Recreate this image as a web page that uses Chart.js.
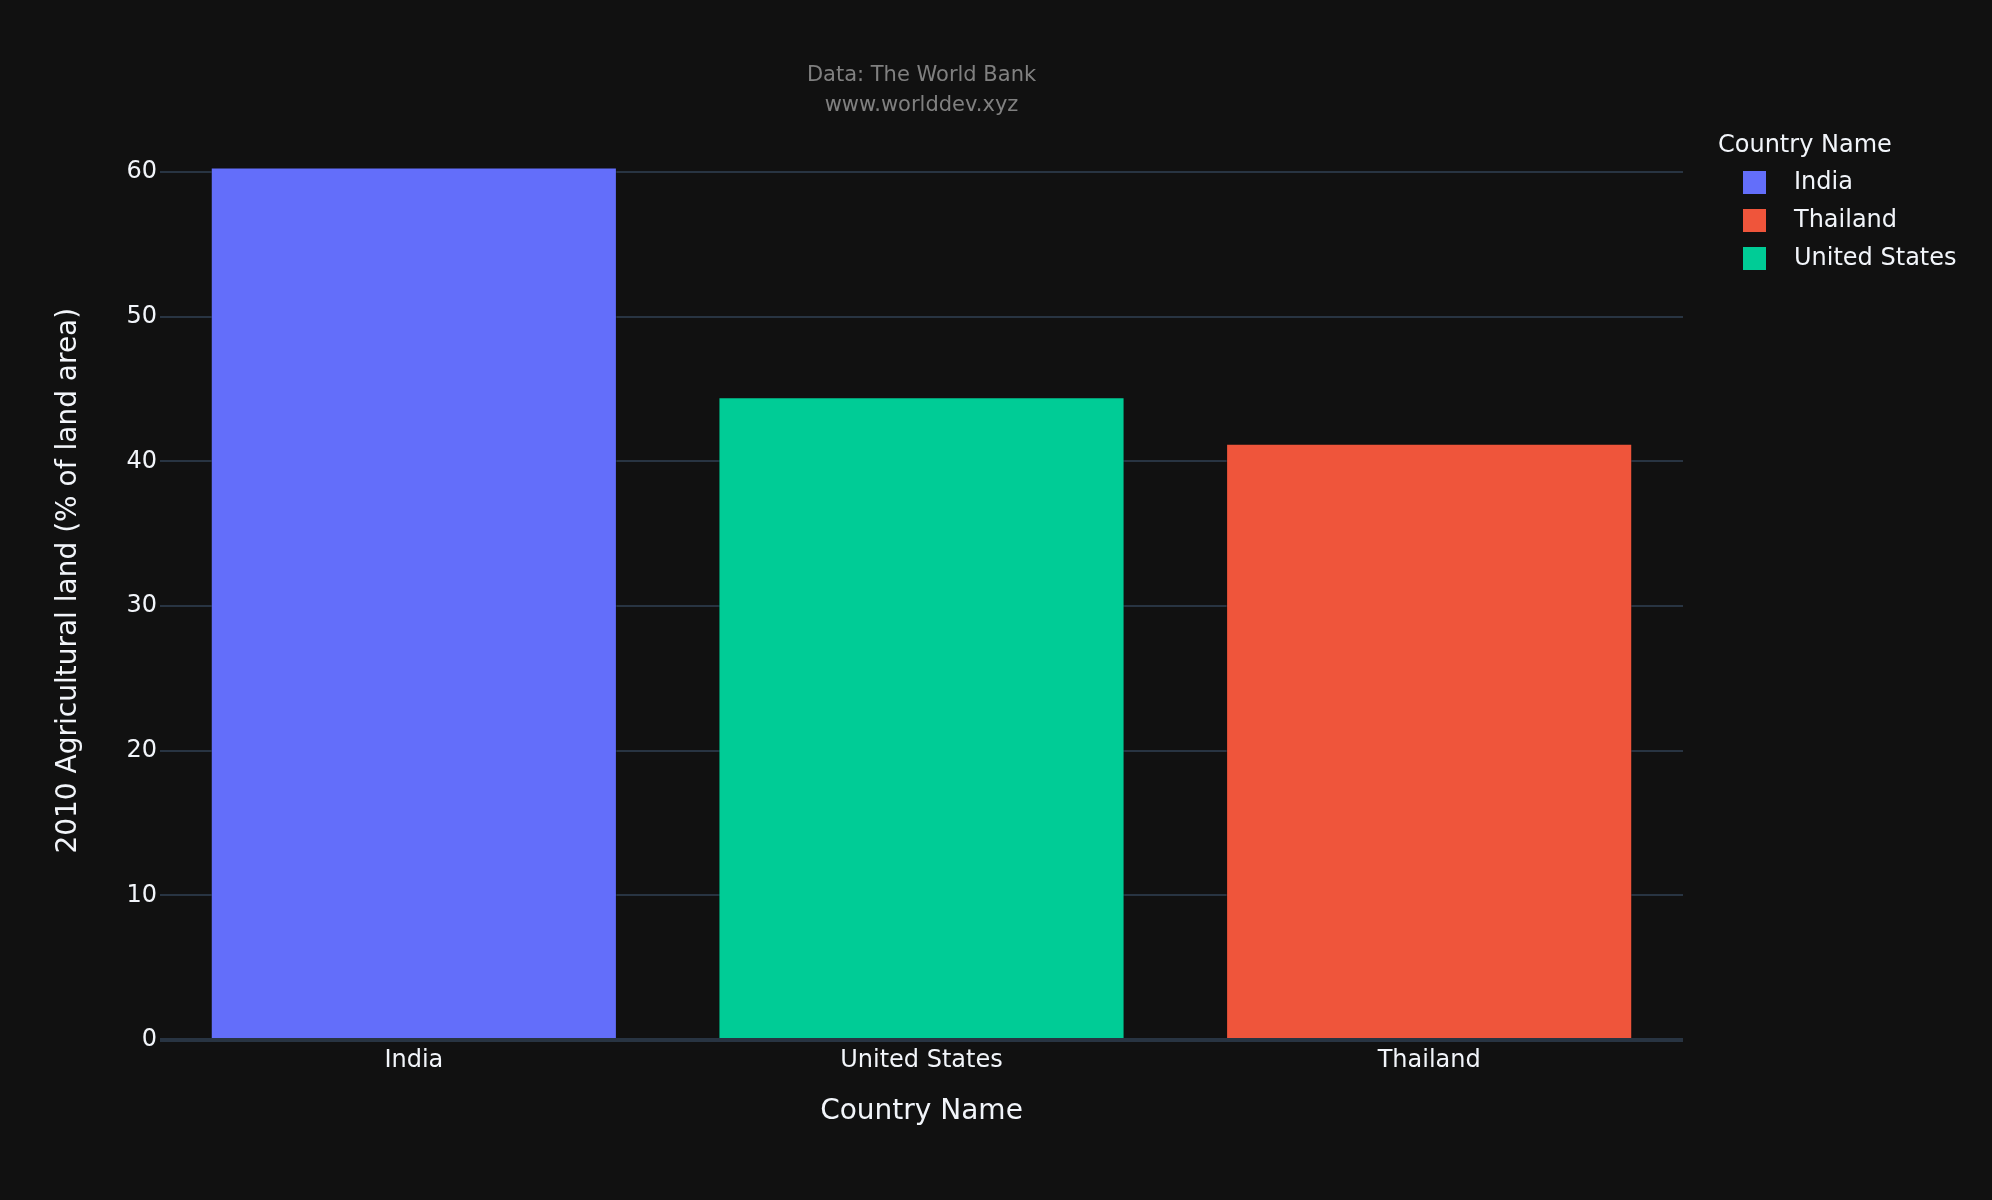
<!DOCTYPE html>
<html>
<head>
<meta charset="utf-8">
<style>
  html, body { margin: 0; padding: 0; background: #111111; }
  #wrap { width: 1992px; height: 1200px; position: relative; }
</style>
<script src="https://cdn.jsdelivr.net/npm/chart.js@4/dist/chart.umd.min.js"></script>
</head>
<body>
<div id="wrap"><canvas id="c" width="1992" height="1200"></canvas></div>
<script>
// ---- data ----
const categories = ['India', 'United States', 'Thailand'];
const values = [60.32, 44.43, 41.22];
const barColors = ['#636efa', '#00cc96', '#EF553B'];
const legendLabels = ['India', 'Thailand', 'United States'];
const legendColors = ['#636efa', '#EF553B', '#00cc96'];
const yTicks = [0, 10, 20, 30, 40, 50, 60];
const yMax = 63.5;
const xTitle = 'Country Name';
const yTitle = '2010 Agricultural land (% of land area)';
const legendTitle = 'Country Name';
const noteLines = ['Data: The World Bank', 'www.worlddev.xyz'];

const FONT = "'DejaVu Sans', Verdana, sans-serif";
const TEXT = '#f2f5fa';
const GRID = '#283442';

const overlay = {
  id: 'overlay',
  afterDraw(chart) {
    const ctx = chart.ctx;
    const a = chart.chartArea;
    const cx = (a.left + a.right) / 2;
    const cy = (a.top + a.bottom) / 2;
    ctx.save();
    // annotation
    ctx.fillStyle = '#808080';
    ctx.font = '21px ' + FONT;
    ctx.textAlign = 'center';
    ctx.textBaseline = 'middle';
    ctx.fillText(noteLines[0], cx, 76);
    ctx.fillText(noteLines[1], cx, 106);
    // x title
    ctx.fillStyle = TEXT;
    ctx.font = '28px ' + FONT;
    ctx.fillText(xTitle, cx, 1112);
    // y title
    ctx.save();
    ctx.translate(69, cy);
    ctx.rotate(-Math.PI / 2);
    ctx.fillText(yTitle, 0, 0);
    ctx.restore();
    // legend
    ctx.textAlign = 'left';
    ctx.font = '24px ' + FONT;
    ctx.fillText(legendTitle, 1718, 145.5);
    legendLabels.forEach((lab, i) => {
      const yc = 182.5 + i * 38;
      ctx.fillStyle = legendColors[i];
      ctx.fillRect(1743, yc - 11.5, 23, 23);
      ctx.fillStyle = TEXT;
      ctx.fillText(lab, 1794, yc);
    });
    ctx.restore();
  }
};

const bgPlugin = {
  id: 'bg',
  beforeDraw(chart) {
    const ctx = chart.ctx;
    ctx.save();
    ctx.fillStyle = '#111111';
    ctx.fillRect(0, 0, chart.width, chart.height);
    ctx.restore();
  }
};

new Chart(document.getElementById('c'), {
  type: 'bar',
  data: {
    labels: categories,
    datasets: [{
      data: values,
      backgroundColor: barColors,
      borderColor: 'rgba(17,17,17,0.5)',
      borderWidth: 1,
      barPercentage: 0.8,
      categoryPercentage: 1.0
    }]
  },
  options: {
    responsive: false,
    animation: false,
    devicePixelRatio: 1,
    layout: { padding: { top: 121.4, right: 309, left: 0, bottom: 0 } },
    plugins: {
      legend: { display: false },
      tooltip: { enabled: false },
      title: { display: false }
    },
    scales: {
      x: {
        type: 'category',
        grid: { display: false, drawTicks: false },
        border: { display: false },
        ticks: { color: TEXT, font: { family: FONT, size: 24 }, padding: 6, maxRotation: 0 },
        afterFit(s) { s.height = 160; }
      },
      y: {
        min: 0,
        max: yMax,
        afterBuildTicks(s) { s.ticks = yTicks.map(v => ({ value: v })); },
        grid: {
          color: GRID,
          lineWidth: (c) => (c.tick && c.tick.value === 0 ? 4 : 2),
          drawTicks: false
        },
        border: { display: false },
        ticks: { color: TEXT, font: { family: FONT, size: 24 }, padding: 3 },
        afterFit(s) { s.width = 160; }
      }
    }
  },
  plugins: [bgPlugin, overlay]
});
</script>
</body>
</html>
